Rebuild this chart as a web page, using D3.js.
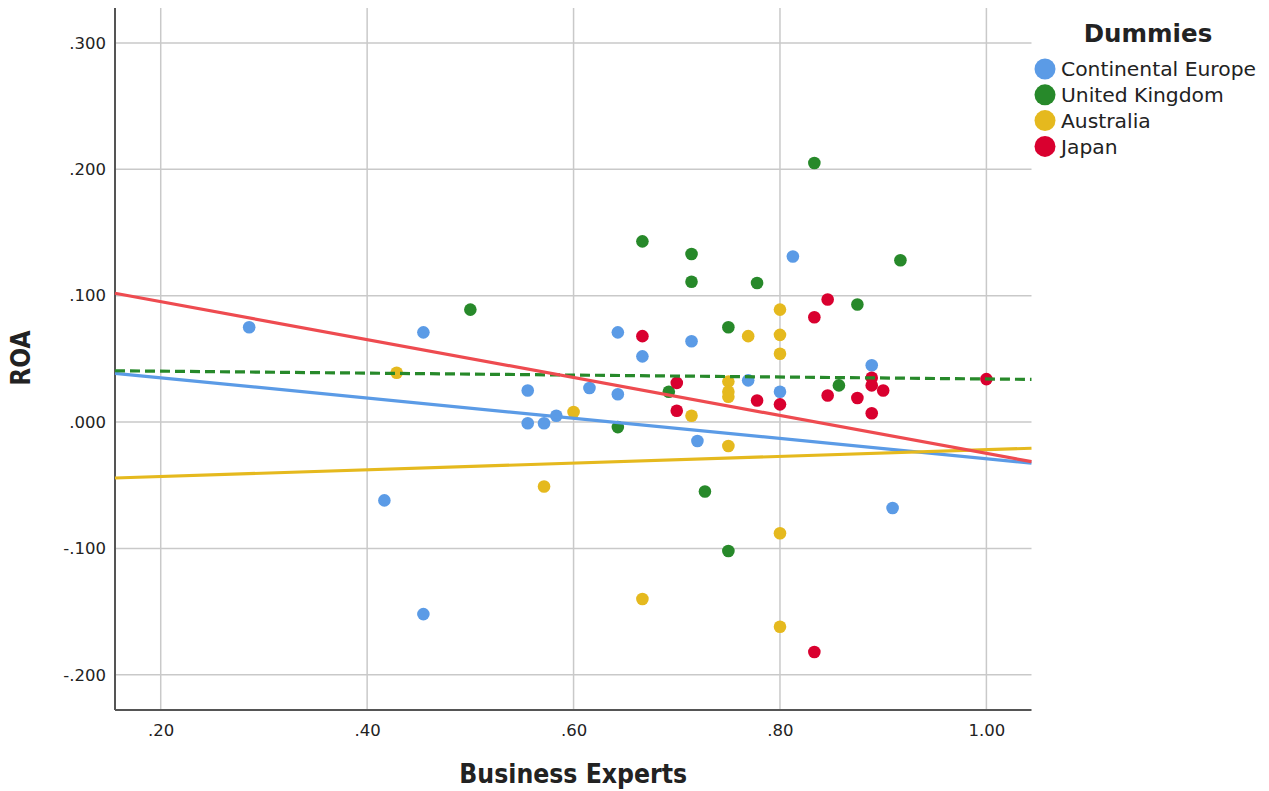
<!DOCTYPE html>
<html>
<head>
<meta charset="utf-8">
<script src="https://cdn.jsdelivr.net/npm/d3@7"></script>
<style>
  html, body { margin: 0; padding: 0; background: #fff; }
  svg { display: block; }
  text { font-family: "DejaVu Sans", sans-serif; fill: #222; }
</style>
</head>
<body>
<svg id="chart" width="1269" height="791"></svg>
<script>
// Groups (legend order) and their colours
const groups = ["Continental Europe", "United Kingdom", "Australia", "Japan"];
const pointColors = ["#5b9be6", "#27892a", "#e5b91e", "#d9002f"];
const lineColors = ["#5b9be6", "#27892a", "#e5b91e", "#ee4b50"];
const lineDashes = [null, "10,5", null, null];

// Business Experts (x) and ROA (y) per group
const ceX = [0.2857, 0.4545, 0.4167, 0.4545, 0.5556, 0.5556, 0.5714, 0.5833, 0.6154, 0.6429, 0.6429, 0.6667, 0.7143, 0.7200, 0.7692, 0.8000, 0.8125, 0.8889, 0.9091];
const ceY = [0.075, 0.071, -0.062, -0.152, 0.025, -0.001, -0.001, 0.005, 0.027, 0.022, 0.071, 0.052, 0.064, -0.015, 0.033, 0.024, 0.131, 0.045, -0.068];

const ukX = [0.5000, 0.6667, 0.7143, 0.7143, 0.7500, 0.6923, 0.6429, 0.8333, 0.7778, 0.9167, 0.8750, 0.8571, 0.7273, 0.7500];
const ukY = [0.089, 0.143, 0.133, 0.111, 0.075, 0.024, -0.004, 0.205, 0.110, 0.128, 0.093, 0.029, -0.055, -0.102];

const auX = [0.4286, 0.5714, 0.6000, 0.6667, 0.7143, 0.7500, 0.7500, 0.7500, 0.7500, 0.7692, 0.8000, 0.8000, 0.8000, 0.8000, 0.8000];
const auY = [0.039, -0.051, 0.008, -0.140, 0.005, 0.032, 0.024, 0.020, -0.019, 0.068, 0.089, 0.069, 0.054, -0.088, -0.162];

const jpX = [0.6667, 0.7000, 0.7000, 0.7778, 0.8000, 0.8333, 0.8462, 0.8462, 0.8750, 0.8889, 0.8889, 0.8889, 0.9000, 1.0000, 0.8333];
const jpY = [0.068, 0.031, 0.009, 0.017, 0.014, 0.083, 0.097, 0.021, 0.019, 0.035, 0.029, 0.007, 0.025, 0.034, -0.182];

// Fit lines per group: ROA = intercept + slope * Business Experts
const fitIntercept = [0.0510, 0.0418, -0.0484, 0.1253];
const fitSlope = [-0.0800, -0.0077, 0.0265, -0.1501];

// Axis ticks
const xTicks = [0.2, 0.4, 0.6, 0.8, 1.0];
const yTicks = [-0.2, -0.1, 0.0, 0.1, 0.2, 0.3];

const seriesX = [ceX, ukX, auX, jpX];
const seriesY = [ceY, ukY, auY, jpY];

const svg = d3.select("#chart");
const plot = { left: 115, right: 1031.5, top: 8, bottom: 710 };

const x = d3.scaleLinear().domain([0.1557, 1.0437]).range([plot.left, plot.right]);
const y = d3.scaleLinear().domain([-0.2279, 0.3277]).range([plot.bottom, plot.top]);

// Decimal labels without a leading zero, plain hyphen for negatives
const fmt = (f) => (v) => d3.format(f)(v).replace("\u2212", "-").replace(/^(-?)0\./, "$1.");

// Grid
const grid = svg.append("g").attr("class", "grid");
grid.selectAll("line.h").data(yTicks).join("line")
  .attr("x1", plot.left).attr("x2", plot.right)
  .attr("y1", d => y(d)).attr("y2", d => y(d))
  .attr("stroke", "#c9c9c9").attr("stroke-width", 1.5);
grid.selectAll("line.v").data(xTicks).join("line")
  .attr("x1", d => x(d)).attr("x2", d => x(d))
  .attr("y1", plot.top).attr("y2", plot.bottom)
  .attr("stroke", "#c9c9c9").attr("stroke-width", 1.5);

// Axes
const xAxis = svg.append("g")
  .attr("transform", `translate(0,${plot.bottom})`)
  .call(d3.axisBottom(x).tickValues(xTicks).tickFormat(fmt(".2f")).tickSize(0).tickPadding(14));
const yAxis = svg.append("g")
  .attr("transform", `translate(${plot.left},0)`)
  .call(d3.axisLeft(y).tickValues(yTicks).tickFormat(fmt(".3f")).tickSize(0).tickPadding(9));
[xAxis, yAxis].forEach(a => {
  a.select(".domain").attr("stroke", "#555").attr("stroke-width", 2);
  a.selectAll("text").attr("font-family", "DejaVu Sans, sans-serif")
    .attr("font-size", 16.5).attr("fill", "#222");
});
xAxis.select(".domain").attr("d", `M${plot.left},0H${plot.right}`);
yAxis.select(".domain").attr("d", `M0,${plot.top}V${plot.bottom}`);

// Points
const pts = svg.append("g").attr("class", "points");
groups.forEach((g, i) => {
  const data = seriesX[i].map((v, k) => [v, seriesY[i][k]]);
  pts.append("g").selectAll("circle").data(data).join("circle")
    .attr("cx", d => x(d[0])).attr("cy", d => y(d[1]))
    .attr("r", 6.3).attr("fill", pointColors[i]);
});

// Fit lines across the full x range
const lineGen = d3.line().x(d => x(d[0])).y(d => y(d[1]));
const drawOrder = [0, 2, 1, 3];
const lines = svg.append("g").attr("class", "fits");
drawOrder.forEach(i => {
  const xs = x.domain();
  const seg = xs.map(v => [v, fitIntercept[i] + fitSlope[i] * v]);
  lines.append("path").datum(seg)
    .attr("d", lineGen)
    .attr("fill", "none")
    .attr("stroke", lineColors[i])
    .attr("stroke-width", 3.2)
    .attr("stroke-dasharray", lineDashes[i]);
});

// Axis titles
svg.append("text")
  .attr("x", (plot.left + plot.right) / 2).attr("y", 783)
  .attr("text-anchor", "middle")
  .attr("font-family", "DejaVu Sans Condensed, DejaVu Sans, sans-serif")
  .attr("font-weight", "bold").attr("font-stretch", "condensed").attr("font-size", 26.3)
  .attr("fill", "#111")
  .text("Business Experts");
svg.append("text")
  .attr("transform", `translate(30,358) rotate(-90)`)
  .attr("text-anchor", "middle")
  .attr("font-family", "DejaVu Sans Condensed, DejaVu Sans, sans-serif")
  .attr("font-weight", "bold").attr("font-stretch", "condensed").attr("font-size", 26)
  .attr("fill", "#111")
  .text("ROA");

// Legend
const legend = svg.append("g").attr("class", "legend");
legend.append("text")
  .attr("x", 1148).attr("y", 42)
  .attr("text-anchor", "middle")
  .attr("font-weight", "bold").attr("font-size", 24.5)
  .attr("fill", "#111")
  .text("Dummies");
const items = legend.selectAll("g.item").data(groups).join("g")
  .attr("transform", (d, i) => `translate(1045,${69 + i * 25.8})`);
items.append("circle").attr("r", 10.5).attr("fill", (d, i) => pointColors[i]);
items.append("text")
  .attr("x", 16).attr("y", 0).attr("dy", "0.36em")
  .attr("font-size", 20.3).attr("fill", "#222")
  .text(d => d);
</script>
</body>
</html>
